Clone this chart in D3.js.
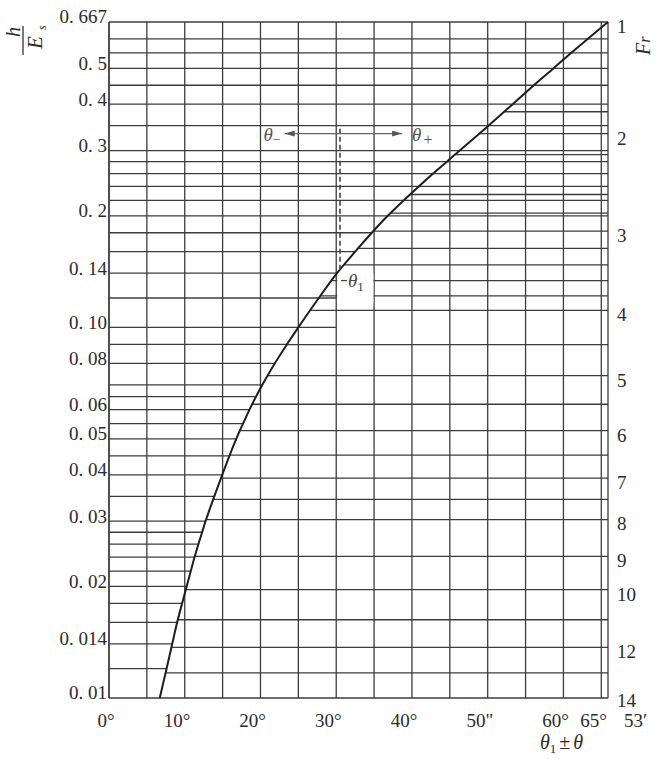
<!DOCTYPE html>
<html><head><meta charset="utf-8">
<script src="https://cdn.jsdelivr.net/npm/d3@7"></script>
<style>
html,body{margin:0;padding:0;background:#fff;}
svg{display:block;}
text{font-family:"Liberation Serif","DejaVu Serif",serif;}
</style></head><body>
<svg id="chart" width="656" height="759"></svg>
<script>
// ---- data ----
const hEsTicks = [0.6667, 0.5, 0.4, 0.3, 0.2, 0.14, 0.10, 0.08, 0.06, 0.05, 0.04, 0.03, 0.02, 0.014, 0.01];
const hEsTickLabels = ["0. 667","0. 5","0. 4","0. 3","0. 2","0. 14","0. 10","0. 08","0. 06","0. 05","0. 04","0. 03","0. 02","0. 014","0. 01"];
const hEsGrid = [0.6, 0.55, 0.5, 0.45, 0.4, 0.35, 0.3, 0.28, 0.26, 0.24, 0.22, 0.2, 0.18, 0.16, 0.14, 0.12, 0.1, 0.09, 0.08, 0.07, 0.065, 0.06, 0.055, 0.05, 0.045, 0.04, 0.035, 0.03, 0.028, 0.026, 0.024, 0.022, 0.02, 0.018, 0.016, 0.014, 0.012];
const frTicks = [1, 2, 3, 4, 5, 6, 7, 8, 9, 10, 12, 14];
const frGrid = [1.8, 2, 2.2, 2.4, 2.6, 2.8, 3, 3.2, 3.4, 3.6, 3.8, 4, 4.5, 5, 5.5, 6, 6.5, 7, 7.5, 8, 9, 10, 11, 12, 13];
const angleGrid = [0, 5, 10, 15, 20, 25, 30, 35, 40, 45, 50, 55, 60, 65];
const angleTicks = [0, 10, 20, 30, 40, 50, 60, 65];
const angleTickLabels = ["0°", "10°", "20°", "30°", "40°", "50\"", "60°", "65°"];
const angleMaxLabel = "53′";
// curve: angle (deg) where the curve crosses each h/Es value
const curveHEs   = [0.01, 0.012, 0.014, 0.016, 0.018, 0.02, 0.022, 0.024, 0.026, 0.028, 0.03, 0.035, 0.04, 0.045, 0.05, 0.055, 0.06, 0.065, 0.07, 0.08, 0.09, 0.1, 0.12, 0.14, 0.16, 0.18, 0.2, 0.22, 0.24, 0.26, 0.28, 0.3, 0.35, 0.4, 0.45, 0.5, 0.55, 0.6, 0.6667];
const curveAngle = [6.7, 7.6, 8.35, 9.0, 9.65, 10.25, 10.8, 11.3, 11.8, 12.3, 12.75, 13.9, 14.95, 15.9, 16.8, 17.7, 18.55, 19.4, 20.25, 21.9, 23.5, 25.0, 27.7, 30.1, 32.5, 34.7, 36.8, 38.9, 40.9, 42.8, 44.6, 46.3, 50.1, 53.3, 56.1, 58.7, 61.0, 63.2, 65.88];
const theta1 = 30.5;          // angle of the dashed θ1 marker
const arrowLevel = 1/3;       // h/Es level of the θ−/θ+ arrows
const dashTop = 0.345;        // h/Es at top of dashed marker
const arrowLeft = 23.2, arrowRight = 38.7;

// ---- scales ----
const W = 656, H = 759;
const xMax = 65 + 53/60;
const x = d3.scaleLinear().domain([0, xMax]).range([109, 608]);
const y = d3.scaleLog().domain([0.01, 2/3]).range([698, 22]);
const frToH = f => 2 / (2 + f * f);
const angleAtH = d3.scaleLog().domain(curveHEs).range(curveAngle).clamp(true);
const hAtAngle = d3.scaleLinear().domain(curveAngle).range(curveHEs.map(v => Math.log10(v))).clamp(true);

const svg = d3.select("#chart");
svg.append("rect").attr("width", W).attr("height", H).attr("fill", "#fff");

const lineCol = "#3c3c3c";
const textCol = "#2b2b2b";
const grid = svg.append("g").attr("stroke", lineCol).attr("stroke-width", 1.3).attr("fill", "none");

// vertical grid
grid.selectAll("line.v").data(angleGrid.concat([xMax])).join("line")
  .attr("x1", d => x(d)).attr("x2", d => x(d))
  .attr("y1", y(2/3)).attr("y2", y(0.01));

// h/Es grid lines (left of the curve; upper ones full width)
const hLineEnd = d => {
  if (d >= 0.2) return x(xMax);
  if (d >= 0.1) return x(Math.max(angleAtH(d), 30));
  return x(angleAtH(d));
};
grid.selectAll("line.h").data(hEsGrid).join("line")
  .attr("x1", x(0))
  .attr("x2", hLineEnd)
  .attr("y1", d => y(d)).attr("y2", d => y(d));

// Fr grid lines (right of the curve), skipping ones that coincide with a full-width h/Es line
const fullY = hEsGrid.filter(v => v >= 0.2).map(v => y(v));
const frShown = frGrid.filter(f => !fullY.some(py => Math.abs(py - y(frToH(f))) < 2.5));
grid.selectAll("line.f").data(frShown).join("line")
  .attr("x1", d => x(angleAtH(frToH(d))))
  .attr("x2", x(xMax))
  .attr("y1", d => y(frToH(d))).attr("y2", d => y(frToH(d)));

// clear space for θ1 label
svg.append("rect")
  .attr("x", x(30) + 1).attr("width", x(35) - x(30) - 1.7)
  .attr("y", y(frToH(3.5))).attr("height", y(frToH(3.9)) - y(frToH(3.5)))
  .attr("fill", "#fff");

// borders
const border = svg.append("g").attr("stroke", lineCol).attr("stroke-width", 1.4);
border.append("line").attr("x1", x(0)).attr("x2", x(xMax)).attr("y1", y(2/3)).attr("y2", y(2/3));
border.append("line").attr("x1", x(0)).attr("x2", x(xMax)).attr("y1", y(0.01)).attr("y2", y(0.01));
border.append("line").attr("x1", x(0)).attr("x2", x(0)).attr("y1", y(2/3)).attr("y2", y(0.01));

// curve
const pts = curveHEs.map((v, i) => [curveAngle[i], v]);
svg.append("path").datum(pts)
  .attr("fill", "none").attr("stroke", "#1e1e1e").attr("stroke-width", 2)
  .attr("d", d3.line().x(d => x(d[0])).y(d => y(d[1])).curve(d3.curveCatmullRom.alpha(0.5)));

// dashed θ1 marker
const yTheta1 = y(Math.pow(10, hAtAngle(theta1)));
svg.append("line")
  .attr("x1", x(theta1)).attr("x2", x(theta1))
  .attr("y1", yTheta1).attr("y2", y(dashTop))
  .attr("stroke", "#444").attr("stroke-width", 1.6).attr("stroke-dasharray", "5,3");

// arrows
const defs = svg.append("defs");
defs.append("marker").attr("id", "ah").attr("viewBox", "0 0 10 6")
  .attr("refX", 10).attr("refY", 3).attr("markerWidth", 10).attr("markerHeight", 6)
  .attr("markerUnits", "userSpaceOnUse").attr("orient", "auto")
  .append("path").attr("d", "M0,0 L10,3 L0,6 z").attr("fill", "#555");
const ya = y(arrowLevel);
svg.append("line").attr("x1", x(theta1)).attr("x2", x(arrowLeft)).attr("y1", ya).attr("y2", ya)
  .attr("stroke", "#666").attr("stroke-width", 1.2).attr("marker-end", "url(#ah)");
svg.append("line").attr("x1", x(theta1)).attr("x2", x(arrowRight)).attr("y1", ya).attr("y2", ya)
  .attr("stroke", "#666").attr("stroke-width", 1.2).attr("marker-end", "url(#ah)");

const tm = svg.append("text").attr("x", x(arrowLeft) - 4).attr("y", ya + 7)
  .attr("text-anchor", "end").attr("font-size", 19).style("fill", "#555");
tm.append("tspan").attr("font-style", "italic").text("θ");
tm.append("tspan").attr("font-size", 14).attr("dy", 3).text("−");
const tp = svg.append("text").attr("x", x(arrowRight) + 10).attr("y", ya + 7)
  .attr("font-size", 19).style("fill", "#555");
tp.append("tspan").attr("font-style", "italic").text("θ");
tp.append("tspan").attr("font-size", 16).attr("dy", 4).attr("dx", 2).text("+");

// θ1 label with leader
svg.append("line").attr("x1", x(theta1) + 1).attr("x2", x(theta1) + 7)
  .attr("y1", y(frToH(3.6))).attr("y2", y(frToH(3.6)))
  .attr("stroke", "#444").attr("stroke-width", 1.2);
const t1 = svg.append("text").attr("x", x(theta1) + 8).attr("y", y(frToH(3.6)) + 6)
  .attr("font-size", 19).style("fill", "#444");
t1.append("tspan").attr("font-style", "italic").text("θ");
t1.append("tspan").attr("font-size", 13).attr("dy", 4).text("1");

// ---- axes ----
const leftAxis = d3.axisLeft(y).tickValues(hEsTicks).tickFormat((d, i) => hEsTickLabels[i]).tickSize(0).tickPadding(2);
const gl = svg.append("g").attr("transform", `translate(${x(0)},0)`).call(leftAxis);
gl.select(".domain").remove();
gl.selectAll("text").attr("font-size", 19).attr("dy", "0.05em")
  .style("font-family", "'Liberation Serif', serif").style("fill", textCol);

const rightAxis = d3.axisRight(y).tickValues(frTicks.map(frToH)).tickFormat((d, i) => frTicks[i]).tickSize(0).tickPadding(9);
const gr = svg.append("g").attr("transform", `translate(${x(xMax)},0)`).call(rightAxis);
gr.select(".domain").remove();
gr.selectAll("text").attr("font-size", 19).attr("dy", "0.55em")
  .style("font-family", "'Liberation Serif', serif").style("fill", textCol);

const bottomAxis = d3.axisBottom(x).tickValues(angleTicks).tickFormat((d, i) => angleTickLabels[i]).tickSize(0);
const gb = svg.append("g").attr("transform", `translate(0,${y(0.01)})`).call(bottomAxis);
gb.select(".domain").remove();
gb.selectAll("text").attr("font-size", 19).attr("text-anchor", "end").attr("dx", 5)
  .attr("y", 29).attr("dy", 0)
  .style("font-family", "'Liberation Serif', serif").style("fill", textCol);
svg.append("text").attr("x", x(xMax) + 16).attr("y", y(0.01) + 29).attr("font-size", 19)
  .style("fill", textCol).text(angleMaxLabel);

// axis titles
const gy = svg.append("g").attr("transform", "translate(23,40) rotate(-90)");
gy.append("line").attr("x1", -15).attr("x2", 14).attr("y1", 0).attr("y2", 0).attr("stroke", "#333").attr("stroke-width", 1.3);
gy.append("text").attr("x", 8).attr("y", -3).attr("text-anchor", "middle").attr("font-size", 20).attr("font-style", "italic").style("fill", textCol).text("h");
gy.append("text").attr("x", -2.5).attr("y", 19).attr("text-anchor", "middle").attr("font-size", 21).attr("font-style", "italic").style("fill", textCol).text("E");
gy.append("text").attr("x", 10).attr("y", 23).attr("font-size", 12).attr("font-style", "italic").style("fill", textCol).text("s");

const gf = svg.append("g").attr("transform", "translate(650,55) rotate(-90)");
const ft = gf.append("text").attr("x", 0).attr("y", 0).attr("font-size", 20).attr("font-style", "italic").style("fill", textCol);
ft.append("tspan").text("F");
ft.append("tspan").attr("font-size", 16).text("r");

const xt = svg.append("text").attr("x", 540).attr("y", 749).attr("font-size", 20).style("fill", textCol);
xt.append("tspan").attr("font-style", "italic").text("θ");
xt.append("tspan").attr("font-size", 13).attr("dy", 4).text("1");
xt.append("tspan").attr("dy", -4).attr("dx", 3).text("±");
xt.append("tspan").attr("dx", 3).attr("font-style", "italic").text("θ");
</script>
</body></html>
